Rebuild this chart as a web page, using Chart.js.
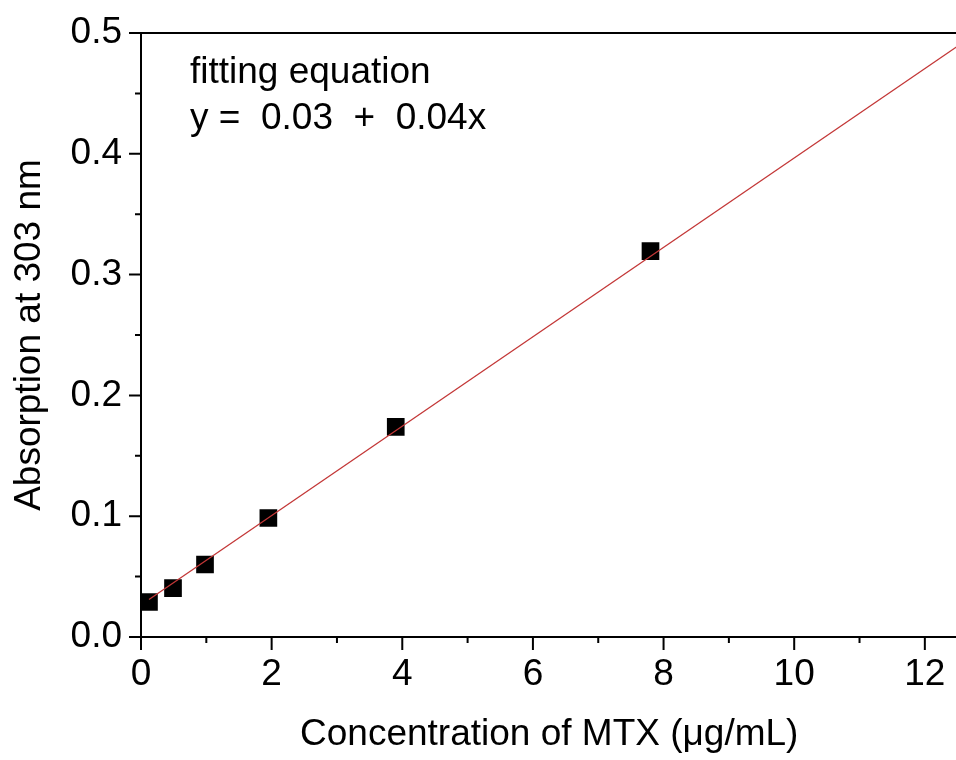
<!DOCTYPE html>
<html>
<head>
<meta charset="utf-8">
<script src="https://cdn.jsdelivr.net/npm/chart.js@4/dist/chart.umd.min.js"></script>
<style>
  html,body{margin:0;padding:0;background:#fff;overflow:hidden;width:956px;height:760px;}
  #wrap{width:970px;height:760px;}
</style>
</head>
<body>
<div id="wrap"><canvas id="chart"></canvas></div>
<script>
// data
const concX = [0.122, 0.49, 0.98, 1.95, 3.9, 7.8];
const absY = [0.029, 0.0405, 0.060, 0.0985, 0.174, 0.3195];
const fitX = [0.122, 12.5];
const fitY = [0.031, 0.489];
const xTicks = [0, 2, 4, 6, 8, 10, 12];
const yTicks = [0.0, 0.1, 0.2, 0.3, 0.4, 0.5];
const eqLines = ["fitting equation", "y =  0.03  +  0.04x"];

const FONT = "'Liberation Sans', Arial, sans-serif";

// axis lines + major/minor ticks + equation text
const frame = {
  id: "frame",
  afterDraw(chart){
    const ctx = chart.ctx, a = chart.chartArea;
    const xs = chart.scales.x, ys = chart.scales.y;
    ctx.save();
    ctx.strokeStyle = "#000";
    ctx.lineWidth = 2;
    ctx.beginPath();
    ctx.moveTo(a.left, a.top); ctx.lineTo(a.left, a.bottom); ctx.lineTo(a.right, a.bottom);
    ctx.moveTo(a.left, a.top); ctx.lineTo(a.right, a.top);
    xs.ticks.forEach(t=>{
      const px = xs.getPixelForValue(t.value);
      const len = xTicks.includes(t.value) ? 13 : 6;
      ctx.moveTo(px, a.bottom); ctx.lineTo(px, a.bottom + len);
    });
    ys.ticks.forEach(t=>{
      const py = ys.getPixelForValue(t.value);
      const major = yTicks.some(v=>Math.abs(v - t.value) < 1e-6);
      ctx.moveTo(a.left, py); ctx.lineTo(a.left - (major ? 12 : 6), py);
    });
    ctx.stroke();

    ctx.fillStyle = "#000";
    ctx.font = "37px " + FONT;
    ctx.textBaseline = "alphabetic";
    ctx.fillText(eqLines[0], a.left + 49, a.top + 50);
    ctx.fillText(eqLines[1], a.left + 49, a.top + 96);
    ctx.restore();
  }
};

new Chart(document.getElementById("chart"), {
  type: "scatter",
  data: {
    datasets: [
      {
        label: "fit",
        type: "line",
        data: fitX.map((x,i)=>({x, y: fitY[i]})),
        borderColor: "rgb(195,55,55)",
        borderWidth: 1.3,
        pointRadius: 0,
        fill: false
      },
      {
        label: "MTX",
        data: concX.map((x,i)=>({x, y: absY[i]})),
        pointStyle: "rect",
        pointRadius: 12.5,
        pointHoverRadius: 12.5,
        backgroundColor: "#000",
        borderColor: "#000",
        borderWidth: 0
      }
    ]
  },
  options: {
    responsive: true,
    maintainAspectRatio: false,
    animation: false,
    events: [],
    layout: { padding: { left: 0, right: 0, top: 33, bottom: 0 } },
    plugins: { legend: { display: false }, tooltip: { enabled: false } },
    scales: {
      x: {
        type: "linear",
        min: 0, max: 12.5,
        afterFit: s => { s.height = 123; s.paddingLeft = 0; s.paddingRight = 0; },
        grid: { display: false, drawTicks: false },
        border: { display: false },
        ticks: {
          stepSize: 1,
          includeBounds: false,
          autoSkip: false,
          maxRotation: 0,
          padding: 16,
          color: "#000",
          font: { family: FONT, size: 37 },
          callback: v => xTicks.includes(v) ? String(v) : ""
        },
        title: {
          display: true,
          text: "Concentration of MTX (\u03bcg/mL)",
          color: "#000",
          font: { family: FONT, size: 37 },
          padding: { top: 0, bottom: 3 }
        }
      },
      y: {
        type: "linear",
        min: 0, max: 0.5,
        afterFit: s => { s.width = 141; s.paddingTop = 0; s.paddingBottom = 0; },
        grid: { display: false, drawTicks: false },
        border: { display: false },
        ticks: {
          stepSize: 0.05,
          autoSkip: false,
          padding: 19,
          color: "#000",
          font: { family: FONT, size: 37 },
          callback: v => yTicks.some(t=>Math.abs(t - v) < 1e-6) ? v.toFixed(1) : ""
        },
        title: {
          display: true,
          text: "Absorption at 303 nm",
          color: "#000",
          font: { family: FONT, size: 37 },
          padding: { top: 8, bottom: 0 }
        }
      }
    }
  },
  plugins: [frame]
});
</script>
</body>
</html>
